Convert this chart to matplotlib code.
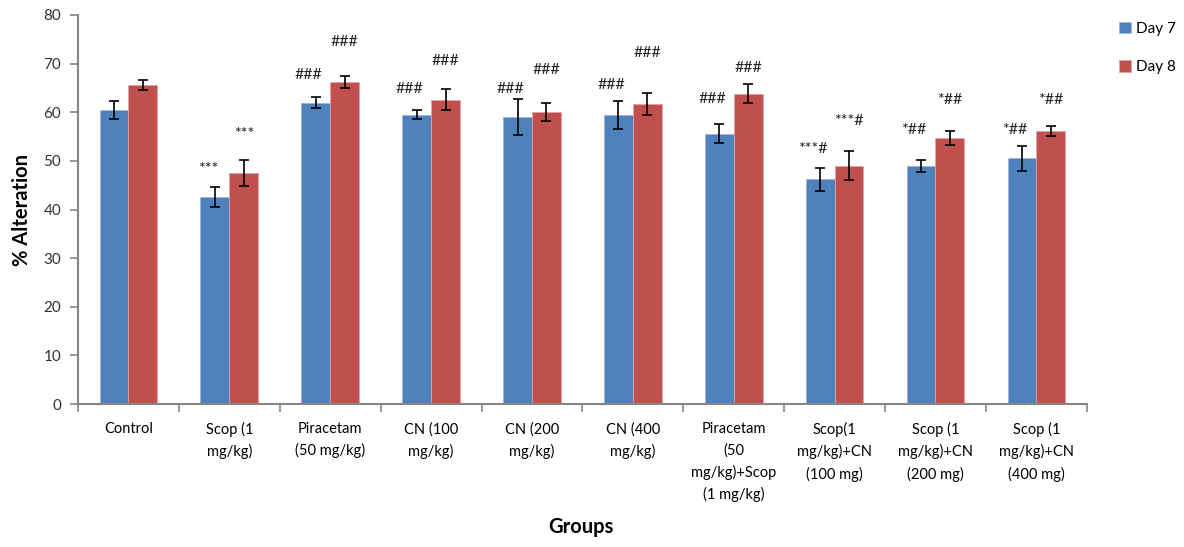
import matplotlib.pyplot as plt
import numpy as np

groups = ["Control", "Scop (1\nmg/kg)", "Piracetam\n(50 mg/kg)", "CN (100\nmg/kg)",
          "CN (200\nmg/kg)", "CN (400\nmg/kg)", "Piracetam\n(50\nmg/kg)+Scop\n(1 mg/kg)",
          "Scop(1\nmg/kg)+CN\n(100 mg)", "Scop (1\nmg/kg)+CN\n(200 mg)", "Scop (1\nmg/kg)+CN\n(400 mg)"]

day7 = [60.5, 42.6, 62.0, 59.5, 59.0, 59.5, 55.6, 46.2, 49.0, 50.5]
day7_err = [1.8, 2.1, 1.1, 0.95, 3.7, 2.9, 1.9, 2.3, 1.2, 2.5]
day8 = [65.6, 47.5, 66.2, 62.6, 60.1, 61.7, 63.8, 49.0, 54.7, 56.2]
day8_err = [1.1, 2.6, 1.3, 2.1, 1.8, 2.3, 1.95, 3.0, 1.4, 1.05]

# significance marks and the height they sit at
day7_marks = ["", "***", "###", "###", "###", "###", "###", "***#", "*##", "*##"]
day7_mark_y = [0, 48.3, 67.7, 64.7, 64.8, 65.5, 62.8, 52.4, 56.3, 56.4]
day8_marks = ["", "***", "###", "###", "###", "###", "###", "***#", "*##", "*##"]
day8_mark_y = [0, 55.5, 74.5, 70.6, 68.7, 72.2, 69.1, 58.1, 62.6, 62.6]

blue = "#4F81BD"
red = "#C0504D"
axis_gray = "#868686"

plt.rcParams['font.family'] = ['Lato', 'DejaVu Sans']

fig = plt.figure(figsize=(11.84, 5.47), dpi=100)
ax = fig.add_axes([0.0659, 0.2614, 0.852, 0.7112])

x = np.arange(len(groups))
w = 0.286
err_kw = dict(ecolor="black", elinewidth=1.2, capsize=3.5, capthick=1.2)
ax.bar(x - w / 2, day7, w, yerr=day7_err, color=blue, edgecolor="#9DB5D8",
       linewidth=0.6, error_kw=err_kw, label="Day 7")
ax.bar(x + w / 2, day8, w, yerr=day8_err, color=red, edgecolor="#E2A4A2",
       linewidth=0.6, error_kw=err_kw, label="Day 8")

for i in range(len(groups)):
    if day7_marks[i]:
        ax.text(x[i] - w / 2 - 0.07, day7_mark_y[i], day7_marks[i], ha="center",
                va="center", fontsize=11.5, color="#222222")
    if day8_marks[i]:
        ax.text(x[i] + w / 2, day8_mark_y[i], day8_marks[i], ha="center",
                va="center", fontsize=11.5, color="#222222")

ax.set_xlim(-0.5, len(groups) - 0.5)
ax.set_ylim(0, 80)
ax.set_yticks(range(0, 81, 10))
ax.set_xticks(x)
ax.set_xticklabels(groups, fontsize=10.5, linespacing=1.6, va="top")
ax.set_xticks(np.arange(-0.5, len(groups)), minor=True)
ax.tick_params(axis="x", which="major", length=0, pad=13)
ax.tick_params(axis="x", which="minor", length=6, color=axis_gray, width=1.2)
ax.tick_params(axis="y", length=6, color=axis_gray, width=1.2, labelsize=11,
               labelcolor="#333333", pad=6)

for side in ["top", "right"]:
    ax.spines[side].set_visible(False)
for side in ["left", "bottom"]:
    ax.spines[side].set_color(axis_gray)
    ax.spines[side].set_linewidth(1.5)

ax.set_ylabel("% Alteration", fontsize=14.5, fontweight="bold", labelpad=8)
fig.text(0.491, 0.018, "Groups", fontsize=14.5, fontweight="bold", ha="center", va="bottom")

leg = ax.legend(loc="upper left", bbox_to_anchor=(1.018, 1.018), frameon=False,
                fontsize=11, handlelength=0.8, handleheight=0.8, handletextpad=0.3,
                labelspacing=1.6)

fig.savefig("out.png", dpi=100)
